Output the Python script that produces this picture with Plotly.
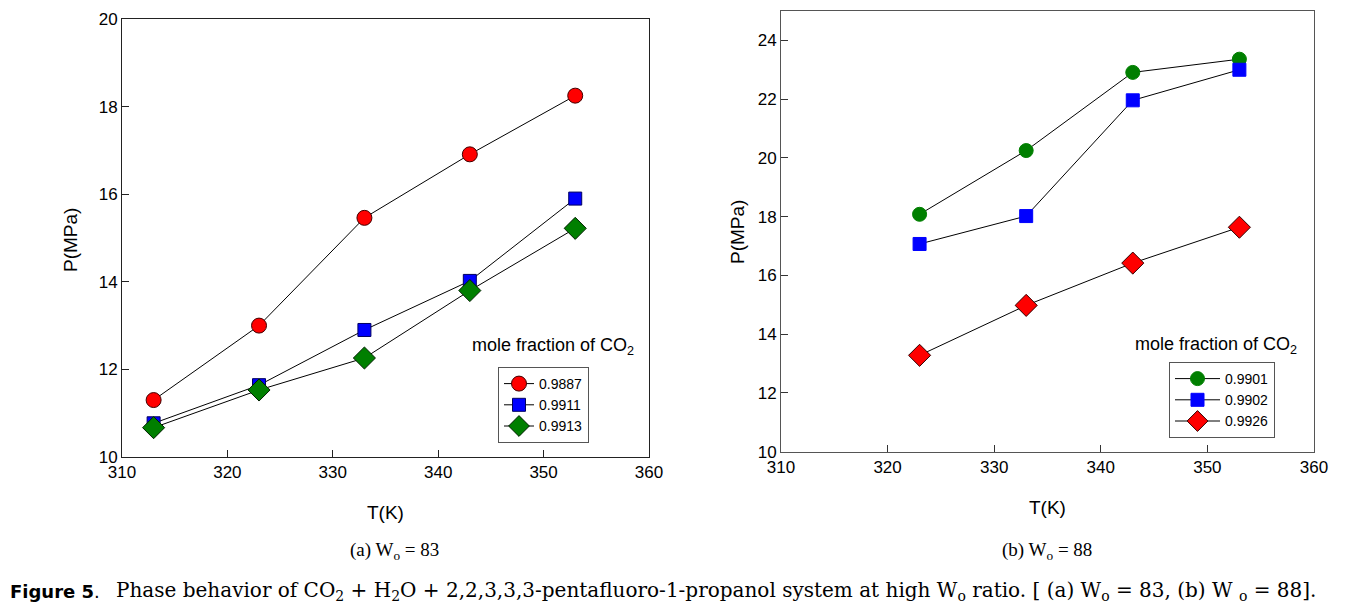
import plotly.graph_objects as go

# ---------- data ----------
T_a = [313, 323, 333, 343, 353]
P_a_9887 = [11.30, 13.00, 15.46, 16.91, 18.25]
P_a_9911 = [10.77, 11.64, 12.90, 14.02, 15.90]
P_a_9913 = [10.67, 11.53, 12.26, 13.80, 15.22]
names_a = ["0.9887", "0.9911", "0.9913"]

T_b = [323, 333, 343, 353]
P_b_9901 = [18.08, 20.25, 22.91, 23.36]
P_b_9902 = [17.07, 18.02, 21.96, 23.00]
P_b_9926 = [13.28, 14.98, 16.42, 17.64]
names_b = ["0.9901", "0.9902", "0.9926"]

x_ticks = [310, 320, 330, 340, 350, 360]
y_ticks_a = [10, 12, 14, 16, 18, 20]
y_ticks_b = [10, 12, 14, 16, 18, 20, 22, 24]

W, H = 1348, 612
OFF = 8  # page body margin
RED, BLUE, GREEN = "#FF0000", "#0000FF", "#007F00"
SANS = "Liberation Sans, Arial, sans-serif"
SERIF = "Liberation Serif, Times New Roman, serif"

fig = go.Figure()

def add(x, y, name, sym, color, size, edge, xa, ya, leg):
    fig.add_trace(go.Scatter(
        x=x, y=y, name=name, mode="lines+markers",
        line=dict(color="black", width=1),
        marker=dict(symbol=sym, color=color, size=size,
                    line=dict(color=edge, width=1)),
        xaxis=xa, yaxis=ya, legend=leg))

add(T_a, P_a_9887, names_a[0], "circle", RED, 15, "#400000", "x", "y", "legend")
add(T_a, P_a_9911, names_a[1], "square", BLUE, 13, "#000060", "x", "y", "legend")
add(T_a, P_a_9913, names_a[2], "diamond", GREEN, 17, "#002000", "x", "y", "legend")

add(T_b, P_b_9901, names_b[0], "circle", GREEN, 14, GREEN, "x2", "y2", "legend2")
add(T_b, P_b_9902, names_b[1], "square", BLUE, 13, BLUE, "x2", "y2", "legend2")
add(T_b, P_b_9926, names_b[2], "diamond", RED, 17, "#300000", "x2", "y2", "legend2")

axcommon = dict(showgrid=False, zeroline=False, showline=True, mirror=True,
                linewidth=1, ticks="inside", ticklen=7, tickwidth=1, automargin=False,
                tickfont=dict(family=SANS, size=17, color="black"))

def px_x(v):
    return (v - OFF) / W

def px_y(v):
    return 1 - (v - OFF) / H

fig.update_layout(
    width=W, height=H, margin=dict(l=0, r=0, t=0, b=0, autoexpand=False),
    paper_bgcolor="white", plot_bgcolor="white",
    xaxis=dict(domain=[px_x(122), px_x(649)], range=[310, 360], tickvals=x_ticks,
               anchor="y", linecolor="#222", tickcolor="#222", **axcommon),
    yaxis=dict(domain=[px_y(457), px_y(19)], range=[10, 20], tickvals=y_ticks_a,
               anchor="x", linecolor="#222", tickcolor="#222", **axcommon),
    xaxis2=dict(domain=[px_x(781), px_x(1314)], range=[310, 360], tickvals=x_ticks,
                anchor="y2", linecolor="#555", tickcolor="#333", **axcommon),
    yaxis2=dict(domain=[px_y(451.7), px_y(11)], range=[10, 25], tickvals=y_ticks_b,
                anchor="x2", linecolor="#555", tickcolor="#333", **axcommon),
    legend=dict(x=px_x(498), y=px_y(367), xanchor="left", yanchor="top",
                bordercolor="#555", borderwidth=1, bgcolor="white",
                font=dict(family=SANS, size=14, color="black"),
                tracegroupgap=0, itemsizing="trace"),
    legend2=dict(x=px_x(1169), y=px_y(362), xanchor="left", yanchor="top",
                 bordercolor="#555", borderwidth=1, bgcolor="white",
                 font=dict(family=SANS, size=14, color="black"),
                 tracegroupgap=0, itemsizing="trace", itemwidth=45),
    showlegend=True,
)

ann = []
def text(x, y, s, size, family=SANS, angle=0, xanchor="center", **kw):
    ann.append(dict(x=px_x(x), y=px_y(y), xref="paper", yref="paper", text=s,
                    showarrow=False, xanchor=xanchor, yanchor="middle",
                    textangle=angle, font=dict(family=family, size=size, color="black"), **kw))

# axis titles
text(385, 512, "T(K)", 19)
text(1047, 507, "T(K)", 19)
text(70, 240, "P(MPa)", 19, angle=-90)
text(737, 232, "P(MPa)", 19, angle=-90)
# legend headings
text(553, 346, "mole fraction of CO<sub>2</sub>", 18)
text(1216, 345, "mole fraction of CO<sub>2</sub>", 18)
# panel captions
text(394, 551, "(a) W<sub>o</sub> = 83", 19, family=SERIF)
text(1047, 551, "(b) W<sub>o</sub> = 88", 19, family=SERIF)
# figure caption
text(8, 591, "<b>Figure 5</b>.", 18, family="DejaVu Sans, sans-serif", xanchor="left")
text(114, 591, "Phase behavior of CO<sub>2</sub> + H<sub>2</sub>O + 2,2,3,3,3-pentafluoro-1-propanol system at high W<sub>o</sub> ratio. "
     "[ (a) W<sub>o</sub> = 83, (b) W <sub>o</sub> = 88].", 20, family="DejaVu Serif, serif", xanchor="left")

fig.update_layout(annotations=ann)
fig.write_html("out.html")
